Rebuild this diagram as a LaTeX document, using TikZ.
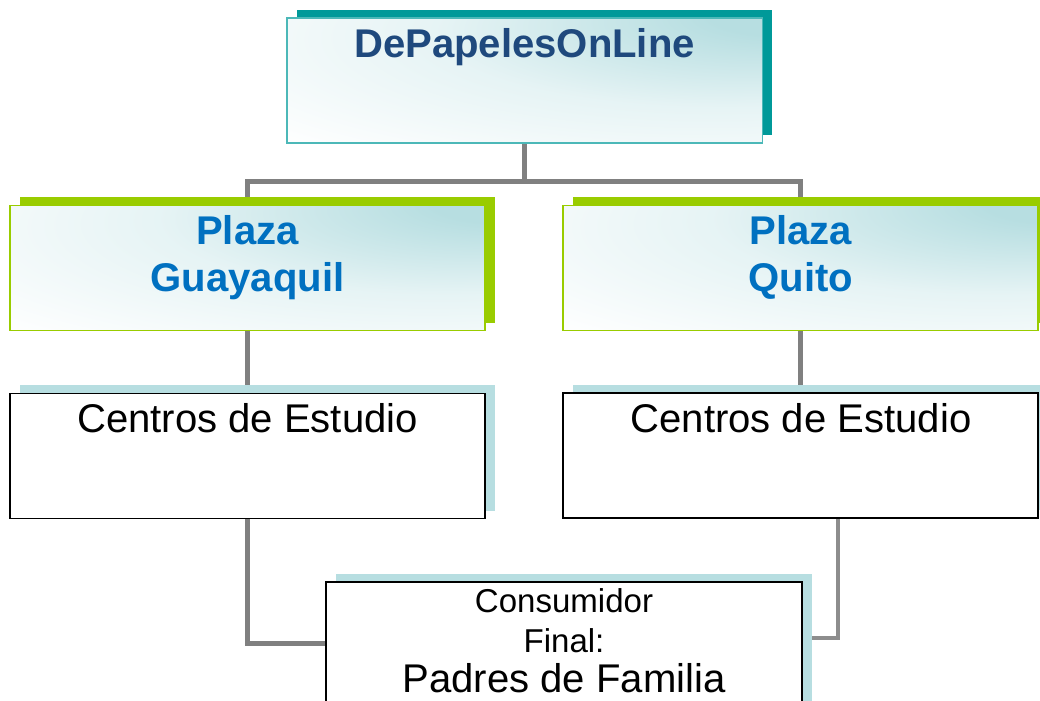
\documentclass[tikz,border=0pt]{standalone}
\usepackage{fontspec}
\setmainfont{Liberation Sans}
\usetikzlibrary{shadows,backgrounds}
\definecolor{headteal}{HTML}{009999}
\definecolor{paleteal}{HTML}{B7DEE1}
\definecolor{plazagreen}{HTML}{99CC00}
\definecolor{headblue}{HTML}{1F497D}
\definecolor{plazablue}{HTML}{0070C0}
\definecolor{conngray}{HTML}{808080}
% glare in the upper right of the coloured boxes
\pgfdeclareradialshading{glare}{\pgfpoint{30bp}{28bp}}{color(0bp)=(paleteal); color(8bp)=(paleteal); color(30bp)=(paleteal!35); color(55bp)=(white); color(100bp)=(white)}
\begin{document}
\begin{tikzpicture}[x=0.025cm,y=-0.025cm,
  box/.style={rectangle,inner sep=0pt,minimum width=11.875cm,minimum height=3.125cm},
  glossy/.style={shading=glare},
  headbox/.style={box,glossy,draw=headteal!70,line width=0.8pt,
    drop shadow={shadow xshift=0.25cm,shadow yshift=0.2cm,fill=headteal,opacity=1}},
  plazabox/.style={box,glossy,draw=plazagreen,line width=1pt,
    drop shadow={shadow xshift=0.25cm,shadow yshift=0.2cm,fill=plazagreen,opacity=1}},
  plainbox/.style={box,fill=white,draw=black,line width=1.2pt,
    drop shadow={shadow xshift=0.25cm,shadow yshift=0.2cm,fill=paleteal,opacity=1}},
  bigtext/.style={anchor=base,align=center,font=\fontsize{28.5}{33.4}\selectfont},
  boldtext/.style={bigtext,font=\bfseries\fontsize{28.5}{33.4}\selectfont},
  smalltext/.style={anchor=base,align=center,font=\fontsize{23.5}{28}\selectfont},
  conn/.style={draw=conngray,line width=3.5pt}]
\useasboundingbox (0,0) rectangle (1040,700);
\clip (0,0) rectangle (1040,700);
% boxes
\node[headbox] (head) at (524.5,80.5) {};
\node[plazabox] (plazaL) at (247.5,268) {};
\node[plazabox] (plazaR) at (800.5,268) {};
\node[plainbox] (centrosL) at (247.5,456) {};
\node[plainbox] (centrosR) at (800.5,455.5) {};
\node[plainbox,minimum width=11.9cm,minimum height=3.95cm] (cons) at (564,661) {};
% texts (base of a two-line node = last line)
\node[boldtext,text=headblue] (headtext) at (524.5,57) {DePapelesOnLine};
\node[boldtext,text=plazablue] (plazaLtext) at (247.5,291) {Plaza\\Guayaquil};
\node[boldtext,text=plazablue] (plazaRtext) at (801,291) {Plaza\\Quito};
\node[bigtext] (centrosLtext) at (247.5,432) {Centros de Estudio};
\node[bigtext] (centrosRtext) at (801,432) {Centros de Estudio};
\node[smalltext] (constext) at (564,652) {Consumidor\\Final:};
\node[bigtext] (padrestext) at (564,692) {Padres de Familia};
% connectors
\coordinate (jL) at (247.5,643.5);
\coordinate (jR) at (838,638);
\begin{scope}[on background layer]
\draw[conn] (head.south) -- ++(0,38) coordinate (bus) -| (plazaL.north);
\draw[conn] (bus) -| (plazaR.north);
\draw[conn] (plazaL.south) -- (centrosL.north);
\draw[conn] (plazaR.south) -- (centrosR.north);
\draw[conn] (centrosL.south) -- (jL) -- (jL -| cons.west);
\draw[conn,line width=3pt,draw=conngray!90] (jR |- centrosR.south) -- (jR) -- (jR -| cons.east);
\end{scope}
\end{tikzpicture}
\end{document}
